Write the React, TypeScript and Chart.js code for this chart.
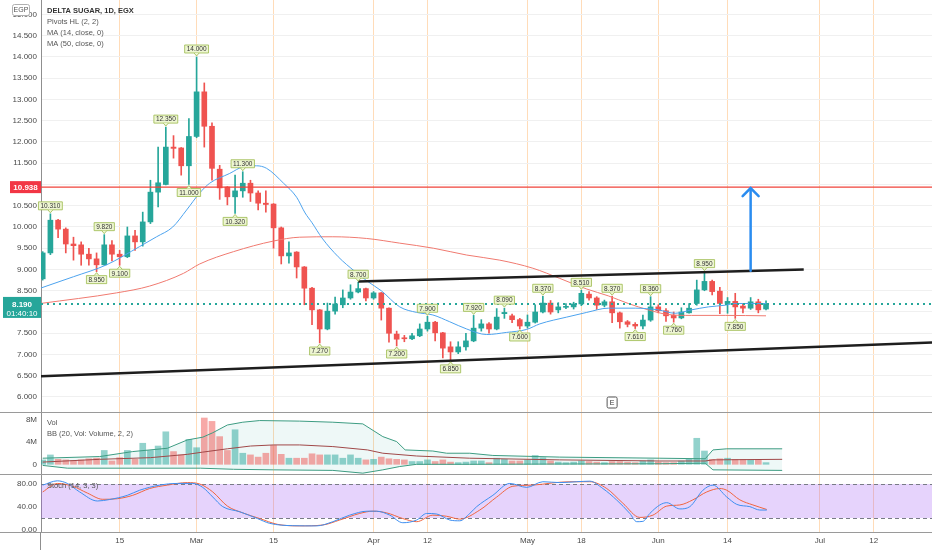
import React, { useEffect, useRef } from "react";
import { Chart, registerables } from "chart.js";
Chart.register(...registerables);

// ---------- DATA ----------
const opens = [8.78, 9.39, 10.16, 9.95, 9.6, 9.58, 9.36, 9.25, 9.11, 9.58, 9.36, 9.3, 9.79, 9.65, 10.12, 10.82, 11.0, 11.88, 11.86, 11.44, 12.13, 13.18, 12.37, 11.36, 10.94, 10.71, 10.85, 11.03, 10.8, 10.56, 10.54, 9.98, 9.32, 9.41, 9.06, 8.56, 8.05, 7.6, 8.02, 8.17, 8.33, 8.47, 8.55, 8.33, 8.45, 8.09, 7.48, 7.39, 7.37, 7.44, 7.6, 7.76, 7.51, 7.18, 7.06, 7.18, 7.32, 7.62, 7.72, 7.6, 7.96, 7.91, 7.82, 7.67, 7.76, 8.0, 8.21, 8.05, 8.11, 8.12, 8.19, 8.42, 8.33, 8.16, 8.24, 7.98, 7.77, 7.71, 7.67, 7.81, 8.12, 8.03, 7.92, 7.86, 7.98, 8.2, 8.52, 8.72, 8.49, 8.2, 8.25, 8.14, 8.09, 8.24, 8.07];
const highs = [9.42, 10.31, 10.18, 9.98, 9.76, 9.65, 9.5, 9.39, 9.82, 9.68, 9.45, 10.0, 9.92, 10.35, 11.1, 11.88, 12.35, 12.15, 11.87, 12.55, 14.0, 13.39, 12.45, 11.45, 10.95, 11.22, 11.3, 11.1, 10.85, 10.85, 10.55, 10.0, 9.65, 9.42, 9.07, 8.58, 8.06, 8.21, 8.35, 8.52, 8.64, 8.7, 8.56, 8.48, 8.46, 8.1, 7.55, 7.45, 7.5, 7.72, 7.9, 7.78, 7.52, 7.3, 7.3, 7.5, 7.92, 7.82, 7.75, 8.08, 8.09, 7.95, 7.85, 7.93, 8.17, 8.37, 8.27, 8.22, 8.2, 8.23, 8.51, 8.48, 8.36, 8.28, 8.37, 8.0, 7.8, 7.75, 7.93, 8.36, 8.17, 8.08, 8.0, 8.1, 8.2, 8.75, 8.95, 8.75, 8.58, 8.34, 8.44, 8.18, 8.34, 8.3, 8.26];
const lows = [8.75, 9.35, 9.75, 9.39, 9.22, 9.1, 9.1, 8.95, 9.1, 9.2, 9.1, 9.28, 9.45, 9.55, 10.08, 10.47, 10.99, 11.62, 11.22, 11.0, 12.1, 11.88, 11.1, 10.65, 10.52, 10.32, 10.7, 10.6, 10.4, 10.35, 9.5, 9.13, 9.15, 8.8, 8.17, 7.7, 7.27, 7.58, 7.95, 8.1, 8.3, 8.45, 8.26, 8.3, 7.81, 7.29, 7.2, 7.3, 7.35, 7.42, 7.55, 7.32, 6.92, 6.85, 7.02, 7.1, 7.3, 7.55, 7.5, 7.58, 7.85, 7.75, 7.6, 7.62, 7.74, 7.98, 7.95, 7.98, 8.08, 8.07, 8.15, 8.28, 8.06, 8.12, 7.75, 7.62, 7.65, 7.61, 7.6, 7.78, 7.98, 7.78, 7.76, 7.84, 7.97, 8.16, 8.5, 8.4, 7.96, 7.97, 7.85, 7.98, 8.06, 7.98, 8.05];
const closes = [9.39, 10.16, 9.95, 9.6, 9.56, 9.36, 9.25, 9.11, 9.58, 9.36, 9.3, 9.79, 9.65, 10.12, 10.82, 11.04, 11.88, 11.85, 11.44, 12.13, 13.18, 12.37, 11.38, 10.92, 10.71, 10.85, 11.03, 10.8, 10.56, 10.53, 9.98, 9.32, 9.39, 9.06, 8.56, 8.05, 7.6, 8.02, 8.19, 8.33, 8.47, 8.55, 8.33, 8.45, 8.09, 7.5, 7.36, 7.37, 7.44, 7.6, 7.76, 7.51, 7.15, 7.06, 7.18, 7.32, 7.62, 7.72, 7.6, 7.88, 7.99, 7.82, 7.67, 7.76, 8.0, 8.21, 8.0, 8.12, 8.13, 8.19, 8.44, 8.33, 8.16, 8.24, 7.98, 7.77, 7.71, 7.67, 7.81, 8.12, 8.03, 7.91, 7.86, 8.0, 8.09, 8.52, 8.72, 8.48, 8.2, 8.25, 8.12, 8.09, 8.24, 8.05, 8.19];
const volumesM = [0.78, 1.69, 0.9, 0.8, 0.7, 0.8, 1.0, 1.1, 2.5, 0.6, 1.2, 2.5, 0.9, 3.8, 2.5, 3.3, 5.87, 2.3, 1.7, 4.5, 3.0, 8.36, 7.75, 5.0, 2.5, 6.24, 2.0, 1.7, 1.3, 2.0, 3.4, 1.8, 1.1, 1.1, 1.1, 1.9, 1.7, 1.7, 1.7, 1.1, 1.7, 1.1, 0.8, 0.9, 1.3, 1.0, 0.9, 0.8, 0.5, 0.5, 0.8, 0.5, 0.8, 0.4, 0.3, 0.4, 0.6, 0.6, 0.3, 1.1, 0.9, 0.6, 0.6, 0.8, 1.6, 1.2, 0.6, 0.4, 0.3, 0.4, 0.6, 0.5, 0.4, 0.3, 0.5, 0.5, 0.4, 0.3, 0.6, 0.8, 0.4, 0.3, 0.3, 0.6, 0.9, 4.7, 2.4, 0.9, 1.0, 1.1, 0.9, 0.9, 0.8, 0.8, 0.3];

const tickIdx = [10, 20, 30, 43, 50, 63, 70, 80, 89, 101, 108];
const tickLabels = ["15", "Mar", "15", "Apr", "12", "May", "18", "Jun", "14", "Jul", "12"];
const priceTicks = [6, 6.5, 7, 7.5, 8, 8.5, 9, 9.5, 10, 10.5, 11, 11.5, 12, 12.5, 13, 13.5, 14, 14.5, 15];
const volTicksM = [0, 4, 8];
const stochTicks = [0, 40, 80];

const ma14X = [-0.3, 4, 8.3, 12.6, 14.8, 16.9, 18.7, 20.4, 21.7, 24.3, 26.1, 27.8, 29.1, 31.3, 33, 34.1, 35, 36.3, 38.4, 40.6, 42.3, 44, 46.4, 48.6, 50.7, 52.9, 55.1, 57.7, 60.3, 62.9, 64.6, 68.1, 70.7, 73.5, 77, 80, 82.2, 84.3, 86.5, 88.7, 90, 94];
const ma14Y = [8.56, 8.83, 9.11, 9.54, 9.77, 10.0, 10.4, 10.8, 11.03, 11.26, 11.42, 11.44, 11.38, 11.03, 10.7, 10.33, 10.1, 9.74, 9.3, 8.95, 8.71, 8.5, 8.12, 7.99, 7.93, 7.77, 7.6, 7.47, 7.52, 7.59, 7.72, 7.88, 7.99, 8.09, 8.09, 8.05, 7.97, 8.05, 8.12, 8.16, 8.2, 8.2];
const ma50X = [-0.3, 9.6, 13.9, 18.3, 20.4, 24.8, 30, 33.4, 37.7, 42.1, 46.4, 50.8, 55.1, 59.4, 63.7, 67.2, 70.7, 73.5, 76.1, 78.7, 81.3, 84.3, 88.7, 94];
const ma50Y = [8.2, 8.45, 8.61, 8.91, 9.13, 9.42, 9.67, 9.76, 9.77, 9.73, 9.62, 9.5, 9.34, 9.22, 9.03, 8.79, 8.54, 8.38, 8.2, 8.05, 7.94, 7.92, 7.92, 7.91];

const bbUpperX = [0, 7.4, 11.7, 16.2, 18.8, 20.8, 22.1, 24, 26, 28.2, 33.4, 37.7, 41.6, 44.2, 46, 47.1, 50.7, 52.5, 55.5, 58.5, 67.2, 80.2, 86.1, 87.1, 88.9, 96.1];
const bbUpperM = [1.1, 1.4, 2.3, 2.9, 4.4, 4.9, 5.7, 7.1, 7.6, 7.9, 7.8, 7.6, 7.3, 5.0, 4.1, 2.6, 2.4, 2.0, 2.0, 1.6, 1.3, 1.1, 1.0, 2.6, 2.8, 2.8];
const bbBasisX = [0, 7.4, 14, 18.8, 20.8, 24, 27, 30, 33.4, 37.7, 42.2, 44.2, 48.6, 55.5, 67.2, 80.2, 86.1, 87.1, 96.1];
const bbBasisM = [0.4, 0.9, 1.2, 1.8, 2.2, 2.8, 3.3, 3.5, 3.5, 3.2, 2.6, 2.0, 1.5, 1.1, 0.8, 0.6, 0.6, 0.8, 0.9];
const bbLowerX = [0, 3.2, 11.7, 20.5, 24.8, 30, 37.7, 41.6, 44.2, 46.4, 48.6, 55.5, 80.2, 86.1, 87.1, 96.1];
const bbLowerM = [-0.2, -0.7, -0.7, -0.7, -0.9, -1.0, -1.1, -1.6, -1.0, -0.4, 0.0, 0.0, 0.1, 0.2, -1.0, -1.1];

const stochKX = [0, 1.9, 3.2, 4.8, 7.1, 8.7, 11, 12.6, 15.2, 17.5, 19.5, 20.8, 22.1, 23.4, 25.6, 27.9, 29.5, 32.5, 35.6, 37.7, 39.9, 42.2, 43.4, 45.1, 46.8, 48.6, 49.9, 51.2, 52.9, 54.2, 55.5, 56.4, 58.5, 60.7, 62.9, 65, 67.2, 69.4, 71.1, 72.8, 74.6, 76.3, 77.2, 78, 78.9, 80.2, 81.1, 82.8, 84.1, 85.8, 87.1, 88.9, 90.2, 91.9, 93.2, 94.1];
const stochKY = [78, 85.6, 81, 66, 50, 52.6, 60, 69, 78, 81, 81, 74, 57, 40, 31, 19, 10.5, 6.4, 6, 13.4, 25, 32, 32, 25, 11.6, 16.4, 28, 27, 16.4, 15, 28, 40, 60, 81, 74, 84, 82.5, 84, 85, 72, 51.6, 28, 13.4, 14, 28, 43, 47, 36, 40, 69, 78, 57, 44, 40, 34, 34];
const stochDX = [0, 1.9, 3.9, 5.8, 7.8, 9.7, 11.7, 13.9, 16.2, 18.8, 20.4, 22.1, 24, 26, 28.2, 30.5, 33.4, 36.4, 38.6, 41.2, 42.9, 44.7, 46.8, 48.6, 50.7, 52.5, 54.2, 56.8, 59, 61.1, 63.7, 66.3, 68.5, 71.1, 73.3, 75.4, 77.6, 79.3, 81.1, 82.8, 84.5, 86.3, 88, 88.9, 90.6, 92.3, 94.1];
const stochDY = [66, 81, 76, 64, 53, 54, 60, 72, 78, 82.5, 80, 66, 41, 29, 19, 8.8, 6, 7.6, 16.4, 28, 32, 29, 19, 13.4, 25, 23, 18, 34, 57, 76, 78, 82, 84, 84, 72, 46, 21, 25, 41, 43, 52, 66, 72, 69, 52, 43, 35];

const pivotHighIdx = [1, 8, 16, 20, 26, 41, 50, 56, 60, 65, 70, 74, 79, 86];
const pivotLowIdx = [7, 10, 19, 25, 36, 46, 53, 62, 77, 82, 90];

const upperTrendX = [41, 98.9];
const upperTrendY = [8.72, 9.0];
const lowerTrendX = [-0.221, 115.57];
const lowerTrendY = [6.49, 7.28];
const targetLevel = 10.938;
const lastPrice = 8.19;
const countdown = "01:40:10";
const arrowIdx = 92;
const arrowFrom = 8.97;
const earningsIdx = 74;

const legendMain = ["DELTA SUGAR, 1D, EGX", "Pivots HL (2, 2)", "MA (14, close, 0)", "MA (50, close, 0)"];
const legendVol = ["Vol", "BB (20, Vol: Volume, 2, 2)"];
const legendStoch = "Stoch (14, 3, 3)";

// ---------- STYLE ----------
const W = 932;
const AXIS_W = 41;
const X_MIN = -0.221;
const X_MAX = 115.57;
const GREEN = "#26a69a";
const RED = "#ef5350";
const FONT = '"Liberation Sans", Arial, sans-serif';
const TEXT = "#4a4a4a";
const ORANGE_GRID = "rgba(255, 178, 100, 0.45)";
const SEP = "#9a9a9a";
const up = closes.map((c, i) => c >= opens[i]);

function xScale(showLabels: boolean): any {
  return {
    type: "linear",
    min: X_MIN,
    max: X_MAX,
    offset: false,
    afterBuildTicks: (s: any) => {
      s.ticks = tickIdx.map((v) => ({ value: v }));
    },
    grid: { color: ORANGE_GRID, drawTicks: false, offset: false, lineWidth: 1 },
    border: { display: false },
    ticks: {
      display: showLabels,
      autoSkip: false,
      maxRotation: 0,
      padding: 4,
      color: TEXT,
      font: { size: 8, family: FONT },
      callback: (_v: any, i: number) => tickLabels[i],
    },
    afterFit: (s: any) => {
      s.height = showLabels ? 18 : 0;
      s.paddingLeft = 0;
      s.paddingRight = 0;
    },
  };
}

function yScale(min: number, max: number, ticks: number[], fmt: (v: number) => string, grid: boolean): any {
  return {
    type: "linear",
    position: "left",
    min,
    max,
    afterBuildTicks: (s: any) => {
      s.ticks = ticks.map((v) => ({ value: v }));
    },
    ticks: { color: TEXT, padding: 4, font: { size: 8, family: FONT }, callback: (v: any) => fmt(Number(v)) },
    grid: { display: grid, color: "#f0f0f0", drawTicks: false },
    border: { display: true, color: "#8f8f8f", width: 1 },
    afterFit: (s: any) => {
      s.width = AXIS_W;
      s.paddingTop = 0;
      s.paddingBottom = 0;
    },
  };
}

const baseOptions = (scales: any): any => ({
  animation: false,
  responsive: false,
  events: [],
  layout: { padding: 0 },
  plugins: { legend: { display: false }, tooltip: { enabled: false }, filler: { drawTime: "beforeDatasetsDraw" } },
  scales,
});

const pts = (xs: number[], ys: number[], k = 1) => xs.map((x, i) => ({ x, y: ys[i] * k }));

function roundRect(ctx: CanvasRenderingContext2D, x: number, y: number, w: number, h: number, r: number) {
  ctx.beginPath();
  ctx.moveTo(x + r, y);
  ctx.lineTo(x + w - r, y);
  ctx.quadraticCurveTo(x + w, y, x + w, y + r);
  ctx.lineTo(x + w, y + h - r);
  ctx.quadraticCurveTo(x + w, y + h, x + w - r, y + h);
  ctx.lineTo(x + r, y + h);
  ctx.quadraticCurveTo(x, y + h, x, y + h - r);
  ctx.lineTo(x, y + r);
  ctx.quadraticCurveTo(x, y, x + r, y);
  ctx.closePath();
}

const mainOverlay = {
  id: "mainOverlay",
  afterDraw(chart: any) {
    const { ctx, chartArea, scales } = chart;
    const xs = scales.x;
    const ys = scales.y;
    ctx.save();
    // pivot labels
    ctx.font = `6.5px ${FONT}`;
    ctx.textAlign = "center";
    ctx.textBaseline = "middle";
    const drawPivot = (idx: number, val: number, above: boolean) => {
      const px = xs.getPixelForValue(idx);
      const py = ys.getPixelForValue(val);
      const txt = val.toFixed(3);
      const w = ctx.measureText(txt).width + 4;
      const h = 8;
      const by = above ? py - 4 - h : py + 4;
      ctx.fillStyle = "#eef6d3";
      ctx.strokeStyle = "#9cba4c";
      ctx.lineWidth = 0.8;
      ctx.beginPath();
      ctx.rect(px - w / 2, by, w, h);
      ctx.fill();
      ctx.stroke();
      ctx.beginPath();
      if (above) {
        ctx.moveTo(px - 2.5, by + h);
        ctx.lineTo(px, by + h + 3);
        ctx.lineTo(px + 2.5, by + h);
      } else {
        ctx.moveTo(px - 2.5, by);
        ctx.lineTo(px, by - 3);
        ctx.lineTo(px + 2.5, by);
      }
      ctx.fill();
      ctx.stroke();
      ctx.fillStyle = "#333";
      ctx.fillText(txt, px, by + h / 2 + 0.5);
    };
    pivotHighIdx.forEach((i) => drawPivot(i, highs[i], true));
    pivotLowIdx.forEach((i) => drawPivot(i, lows[i], false));

    // blue arrow
    const ax = xs.getPixelForValue(arrowIdx);
    const a0 = ys.getPixelForValue(arrowFrom);
    const a1 = ys.getPixelForValue(targetLevel);
    ctx.strokeStyle = "#2a8cf0";
    ctx.lineWidth = 2.5;
    ctx.lineCap = "round";
    ctx.beginPath();
    ctx.moveTo(ax, a0);
    ctx.lineTo(ax, a1 + 1);
    ctx.stroke();
    ctx.beginPath();
    ctx.moveTo(ax - 8, a1 + 9);
    ctx.lineTo(ax, a1 + 1);
    ctx.lineTo(ax + 8, a1 + 9);
    ctx.stroke();
    ctx.lineCap = "butt";

    // earnings marker
    const ex = xs.getPixelForValue(earningsIdx);
    const eyTop = chartArea.bottom - 15;
    ctx.fillStyle = "#fff";
    ctx.strokeStyle = "#555";
    ctx.lineWidth = 1;
    roundRect(ctx, ex - 5, eyTop, 10, 11, 1.5);
    ctx.fill();
    ctx.stroke();
    ctx.fillStyle = "#333";
    ctx.font = `7px ${FONT}`;
    ctx.fillText("E", ex, eyTop + 6);

    // legend
    ctx.textAlign = "left";
    legendMain.forEach((t, i) => {
      ctx.font = i === 0 ? `bold 7.5px ${FONT}` : `7.5px ${FONT}`;
      ctx.fillStyle = i === 0 ? "#333" : "#555";
      ctx.fillText(t, 47, 11 + i * 11);
    });

    // EGP badge
    ctx.fillStyle = "#fff";
    ctx.strokeStyle = "#b0b0b0";
    roundRect(ctx, 12.5, 4.5, 17, 11, 2);
    ctx.fill();
    ctx.stroke();
    ctx.fillStyle = "#555";
    ctx.font = `7px ${FONT}`;
    ctx.textAlign = "center";
    ctx.fillText("EGP", 21, 10.5);

    // axis price labels
    const ty = ys.getPixelForValue(targetLevel);
    ctx.fillStyle = "#f23645";
    ctx.fillRect(10, ty - 6, AXIS_W - 10, 12);
    ctx.fillStyle = "#fff";
    ctx.font = `bold 8px ${FONT}`;
    ctx.fillText(targetLevel.toFixed(3), 25.5, ty + 0.5);

    const ly = ys.getPixelForValue(lastPrice);
    ctx.fillStyle = GREEN;
    ctx.fillRect(3, ly - 7, AXIS_W - 3, 21);
    ctx.fillStyle = "#fff";
    ctx.font = `bold 8px ${FONT}`;
    ctx.fillText(lastPrice.toFixed(3), 22, ly + 0.5);
    ctx.font = `8px ${FONT}`;
    ctx.fillText(countdown, 22, ly + 10);
    ctx.restore();
  },
};

const volOverlay = {
  id: "volOverlay",
  afterDraw(chart: any) {
    const { ctx } = chart;
    ctx.save();
    ctx.strokeStyle = SEP;
    ctx.lineWidth = 1;
    ctx.beginPath();
    ctx.moveTo(0, 0.5);
    ctx.lineTo(W, 0.5);
    ctx.stroke();
    ctx.font = `7.5px ${FONT}`;
    ctx.fillStyle = "#555";
    ctx.textAlign = "left";
    ctx.textBaseline = "middle";
    legendVol.forEach((t, i) => ctx.fillText(t, 47, 10.7 + i * 10.8));
    ctx.restore();
  },
};

const stochBand = {
  id: "stochBand",
  beforeDatasetsDraw(chart: any) {
    const { ctx, chartArea, scales } = chart;
    const y80 = scales.y.getPixelForValue(80);
    const y20 = scales.y.getPixelForValue(20);
    ctx.save();
    ctx.fillStyle = "rgba(155, 80, 245, 0.25)";
    ctx.fillRect(chartArea.left, y80, chartArea.right - chartArea.left, y20 - y80);
    ctx.strokeStyle = "#787b86";
    ctx.lineWidth = 1;
    ctx.setLineDash([4, 3]);
    [y80, y20].forEach((yy) => {
      ctx.beginPath();
      ctx.moveTo(chartArea.left, Math.round(yy) + 0.5);
      ctx.lineTo(chartArea.right, Math.round(yy) + 0.5);
      ctx.stroke();
    });
    ctx.restore();
  },
  afterDraw(chart: any) {
    const { ctx, chartArea } = chart;
    ctx.save();
    ctx.strokeStyle = SEP;
    ctx.lineWidth = 1;
    ctx.beginPath();
    ctx.moveTo(0, 0.5);
    ctx.lineTo(W, 0.5);
    ctx.moveTo(0, chartArea.bottom + 0.5);
    ctx.lineTo(W, chartArea.bottom + 0.5);
    ctx.stroke();
    ctx.strokeStyle = "#8f8f8f";
    ctx.beginPath();
    ctx.moveTo(chartArea.left - 0.5, chartArea.bottom);
    ctx.lineTo(chartArea.left - 0.5, chart.height);
    ctx.stroke();
    ctx.font = `7.5px ${FONT}`;
    ctx.fillStyle = "#555";
    ctx.textAlign = "left";
    ctx.textBaseline = "middle";
    ctx.fillText(legendStoch, 47, 12);
    ctx.restore();
  },
};

export default function App() {
  const mainRef = useRef<HTMLCanvasElement>(null);
  const volRef = useRef<HTMLCanvasElement>(null);
  const stochRef = useRef<HTMLCanvasElement>(null);

  useEffect(() => {
    Chart.defaults.font.family = FONT;
    const candleColor = (c: any) => (up[c.dataIndex] ? GREEN : RED);

    const main = new Chart(mainRef.current as HTMLCanvasElement, {
      type: "bar",
      data: {
        datasets: [
          { type: "line", data: pts(upperTrendX, upperTrendY), borderColor: "#1e1e1e", borderWidth: 2.5, pointRadius: 0, order: 0 } as any,
          { type: "line", data: pts(lowerTrendX, lowerTrendY), borderColor: "#1e1e1e", borderWidth: 2.5, pointRadius: 0, order: 0 } as any,
          { type: "line", data: [{ x: X_MIN, y: targetLevel }, { x: X_MAX, y: targetLevel }], borderColor: "#f0433a", borderWidth: 1.2, pointRadius: 0, order: 1 } as any,
          { type: "line", data: [{ x: X_MIN, y: lastPrice }, { x: X_MAX, y: lastPrice }], borderColor: GREEN, borderWidth: 2, borderDash: [2, 4], pointRadius: 0, order: 1 } as any,
          { type: "line", data: pts(ma14X, ma14Y), borderColor: "#4da3ee", borderWidth: 1, pointRadius: 0, cubicInterpolationMode: "monotone", order: 2 } as any,
          { type: "line", data: pts(ma50X, ma50Y), borderColor: "#f07a70", borderWidth: 1, pointRadius: 0, cubicInterpolationMode: "monotone", order: 3 } as any,
          { type: "bar", data: opens.map((o, i) => ({ x: i, y: [o, closes[i]] })), backgroundColor: candleColor, barThickness: 5, minBarLength: 1, grouped: false, order: 4 } as any,
          { type: "bar", data: highs.map((h, i) => ({ x: i, y: [lows[i], h] })), backgroundColor: candleColor, barThickness: 1, grouped: false, order: 5 } as any,
        ],
      },
      options: baseOptions({
        x: xScale(false),
        y: yScale(5.647, 15.341, priceTicks, (v) => v.toFixed(3), true),
      }),
      plugins: [mainOverlay],
    });

    const vol = new Chart(volRef.current as HTMLCanvasElement, {
      type: "bar",
      data: {
        datasets: [
          { type: "line", data: pts(bbUpperX, bbUpperM, 1e6), borderColor: "#3d9c82", borderWidth: 1, pointRadius: 0, fill: "+2", backgroundColor: "rgba(38,166,154,0.08)", order: 1 } as any,
          { type: "line", data: pts(bbBasisX, bbBasisM, 1e6), borderColor: "#a04848", borderWidth: 1, pointRadius: 0, order: 0 } as any,
          { type: "line", data: pts(bbLowerX, bbLowerM, 1e6), borderColor: "#3d9c82", borderWidth: 1, pointRadius: 0, order: 1 } as any,
          {
            type: "bar",
            data: volumesM.map((v, i) => ({ x: i, y: v * 1e6 })),
            backgroundColor: (c: any) => (up[c.dataIndex] ? "rgba(38,166,154,0.5)" : "rgba(239,83,80,0.5)"),
            barThickness: 6,
            order: 2,
          } as any,
        ],
      },
      options: baseOptions({
        x: xScale(false),
        y: yScale(-1.75e6, 9.445e6, volTicksM.map((v) => v * 1e6), (v) => (v === 0 ? "0" : `${v / 1e6}M`), false),
      }),
      plugins: [volOverlay],
    });

    const stoch = new Chart(stochRef.current as HTMLCanvasElement, {
      type: "line",
      data: {
        datasets: [
          { data: pts(stochKX, stochKY), borderColor: "#3d8ef0", borderWidth: 1, pointRadius: 0, cubicInterpolationMode: "monotone" } as any,
          { data: pts(stochDX, stochDY), borderColor: "#f0653f", borderWidth: 1, pointRadius: 0, cubicInterpolationMode: "monotone" } as any,
        ],
      },
      options: baseOptions({
        x: xScale(true),
        y: yScale(-4.77, 97.66, stochTicks, (v) => v.toFixed(2), false),
      }),
      plugins: [stochBand],
    });

    return () => {
      main.destroy();
      vol.destroy();
      stoch.destroy();
    };
  }, []);

  return (
    <div style={{ position: "absolute", left: 0, top: 0, width: W, height: 550, background: "#fff", overflow: "hidden" }}>
      <canvas ref={mainRef} width={W} height={412} style={{ position: "absolute", left: 0, top: 0, width: W, height: 412 }} />
      <canvas ref={volRef} width={W} height={62} style={{ position: "absolute", left: 0, top: 412, width: W, height: 62 }} />
      <canvas ref={stochRef} width={W} height={76} style={{ position: "absolute", left: 0, top: 474, width: W, height: 76 }} />
    </div>
  );
}
